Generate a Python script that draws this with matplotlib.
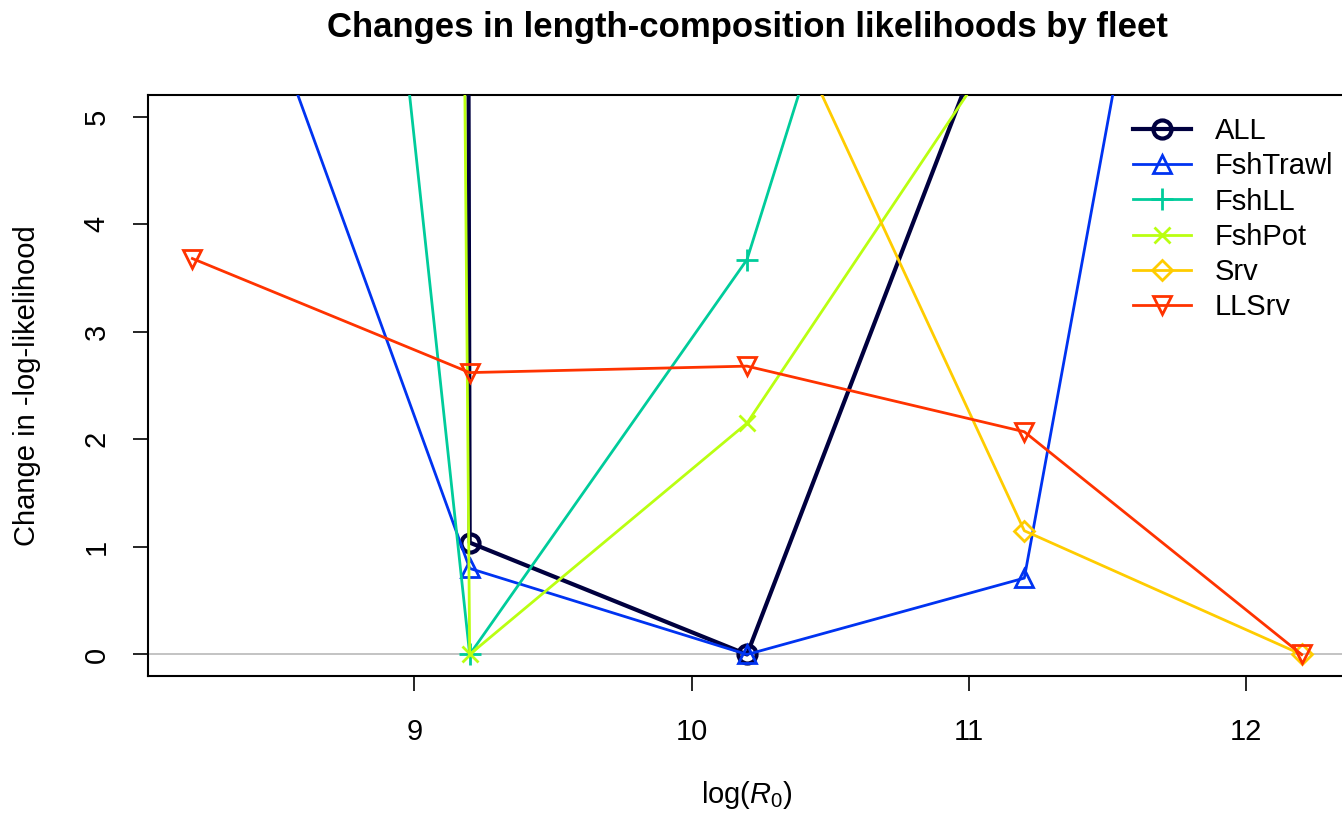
import matplotlib
matplotlib.use("Agg")
import matplotlib.pyplot as plt

plt.rcParams['font.family'] = ['Liberation Sans', 'DejaVu Sans']
plt.rcParams['mathtext.fontset'] = 'custom'
plt.rcParams['mathtext.rm'] = 'Liberation Sans'
plt.rcParams['mathtext.it'] = 'Liberation Sans:italic'

# log(R0) values of the profile
logR0 = [8.2, 9.2, 10.2, 11.2, 12.2]

# change in -log-likelihood by fleet (values above 5.2 run off the top)
ALL = [1000, 1.04, 0.0, 6.7, 18.0]
FshTrawl = [7.9, 0.80, 0.0, 0.71, 14.8]
FshLL = [24.0, 0.0, 3.67, 11.9, 20.0]
FshPot = [300, 0.0, 2.15, 6.0, 12.0]
Srv = [60.0, 20.0, 6.7, 1.15, 0.0]
LLSrv = [3.68, 2.62, 2.68, 2.07, 0.0]

fleets = ["ALL", "FshTrawl", "FshLL", "FshPot", "Srv", "LLSrv"]
series = [ALL, FshTrawl, FshLL, FshPot, Srv, LLSrv]
colors = ["#00003F", "#0033F1", "#00CC9B", "#BAFF11", "#FFCC00", "#FF3300"]
markers = ["o", "^", "+", "x", "D", "v"]
msizes = [13, 13, 16, 12, 10, 13]

fig = plt.figure(figsize=(13.42, 8.14), dpi=100)
ax = fig.add_axes([148 / 1342, 138 / 814, 1198 / 1342, 581 / 814])

ax.axhline(0, color="#BEBEBE", lw=1.3, zorder=1)

for name, vals, col, mk, ms in zip(fleets, series, colors, markers, msizes):
    lw = 3.0 if name == "ALL" else 2.0
    mew = 3.0 if name == "ALL" else 2.0
    ax.plot(logR0, vals, color=col, lw=lw, marker=mk, ms=ms, mfc="none",
            mec=col, mew=mew, label=name, zorder=3)

ax.set_xlim(8.04, 12.36)
ax.set_ylim(-0.2, 5.2)
ax.set_xticks([9, 10, 11, 12])
ax.set_yticks([0, 1, 2, 3, 4, 5])
ax.tick_params(axis="both", length=11, width=1.2, labelsize=21)
ax.tick_params(axis="x", pad=19)
ax.tick_params(axis="y", pad=16)
for lab in ax.get_yticklabels():
    lab.set_rotation(90)
    lab.set_va("center")

for s in ["left", "bottom", "top"]:
    ax.spines[s].set_linewidth(1.5)
ax.spines["right"].set_visible(False)

ax.set_xlabel(r"$\mathrm{log}(R_0)$", fontsize=21, labelpad=24)
ax.set_ylabel("Change in -log-likelihood", fontsize=21, labelpad=30)
fig.text(747 / 1342, 1 - 28 / 814, "Changes in length-composition likelihoods by fleet",
         ha="center", va="center", fontsize=25, fontweight="bold")

fig.legend(loc="upper left", bbox_to_anchor=(1133 / 1342, 1 - 117 / 814),
           frameon=False, fontsize=21, handlelength=2.0, handletextpad=0.8,
           labelspacing=0.25, borderpad=0, borderaxespad=0)

fig.savefig("out.png", dpi=100)
